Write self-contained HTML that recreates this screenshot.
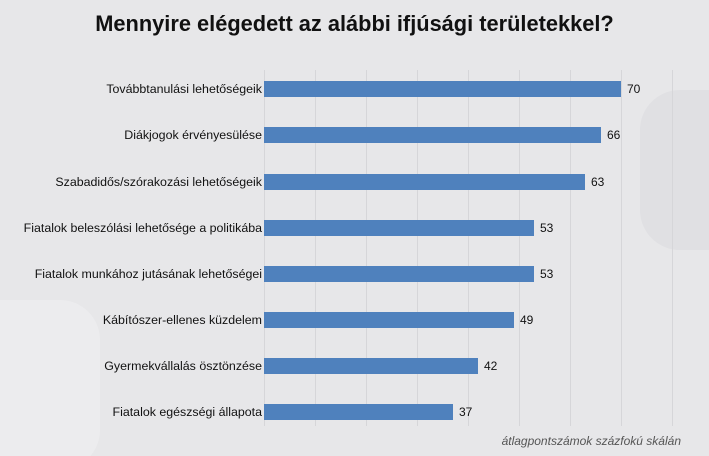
<!DOCTYPE html>
<html><head><meta charset="utf-8"><style>
html,body{margin:0;width:709px;height:456px;overflow:hidden}
body{background:#e7e7e9;font-family:"Liberation Sans",sans-serif;position:relative}
.t{position:absolute;top:11px;left:0;width:709px;text-align:center;font-weight:bold;font-size:21.8px;color:#111}
.g{position:absolute;top:70px;height:356px;width:1px;background:#d6d6d9}
.l{position:absolute;right:447px;font-size:12.4px;color:#111;white-space:nowrap}
.b{position:absolute;left:264px;height:16px;background:#4f81bd}
.v{position:absolute;font-size:12px;color:#111}
.n{position:absolute;right:28px;top:434px;font-size:12px;font-style:italic;color:#555}
</style></head><body>
<div style="position:absolute;left:640px;top:90px;width:120px;height:160px;background:#e0e0e3;border-radius:40px"></div>
<div style="position:absolute;left:-60px;top:300px;width:160px;height:170px;background:#ececee;border-radius:40px"></div>
<div class="t">Mennyire elégedett az alábbi ifjúsági területekkel?</div>
<div class="g" style="left:264px"></div><div class="g" style="left:315px"></div><div class="g" style="left:366px"></div><div class="g" style="left:417px"></div><div class="g" style="left:468px"></div><div class="g" style="left:519px"></div><div class="g" style="left:570px"></div><div class="g" style="left:621px"></div><div class="g" style="left:672px"></div>
<div class="l" style="top:82px">Továbbtanulási lehetőségeik</div>
<div class="b" style="top:81px;width:357px"></div><div class="v" style="left:627px;top:82px">70</div>
<div class="l" style="top:128px">Diákjogok érvényesülése</div>
<div class="b" style="top:127px;width:337px"></div><div class="v" style="left:607px;top:128px">66</div>
<div class="l" style="top:175px">Szabadidős/szórakozási lehetőségeik</div>
<div class="b" style="top:174px;width:321px"></div><div class="v" style="left:591px;top:175px">63</div>
<div class="l" style="top:221px">Fiatalok beleszólási lehetősége a politikába</div>
<div class="b" style="top:220px;width:270px"></div><div class="v" style="left:540px;top:221px">53</div>
<div class="l" style="top:267px">Fiatalok munkához jutásának lehetőségei</div>
<div class="b" style="top:266px;width:270px"></div><div class="v" style="left:540px;top:267px">53</div>
<div class="l" style="top:313px">Kábítószer-ellenes küzdelem</div>
<div class="b" style="top:312px;width:250px"></div><div class="v" style="left:520px;top:313px">49</div>
<div class="l" style="top:359px">Gyermekvállalás ösztönzése</div>
<div class="b" style="top:358px;width:214px"></div><div class="v" style="left:484px;top:359px">42</div>
<div class="l" style="top:405px">Fiatalok egészségi állapota</div>
<div class="b" style="top:404px;width:189px"></div><div class="v" style="left:459px;top:405px">37</div>
<div class="n">átlagpontszámok százfokú skálán</div>
</body></html>
